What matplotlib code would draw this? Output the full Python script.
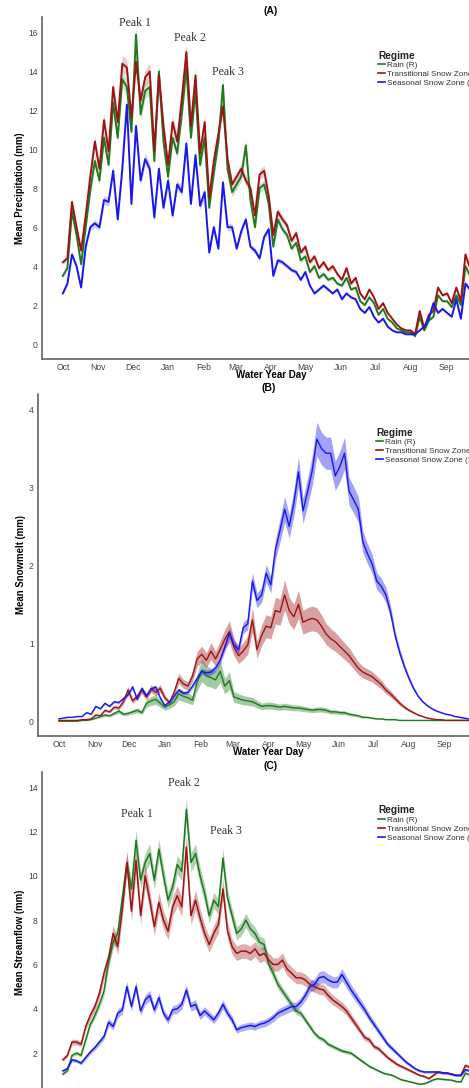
import numpy as np
import matplotlib
matplotlib.use("Agg")
import matplotlib.pyplot as plt
from matplotlib.lines import Line2D

plt.rcParams['font.family'] = ['Liberation Sans', 'DejaVu Sans']

# ---------------- data ----------------
days = np.arange(1, 366, 4)  # water-year day, sampled every 4 days

month_days = [1, 32, 62, 93, 124, 152, 183, 213, 244, 274, 305, 336]
month_labels = ['Oct', 'Nov', 'Dec', 'Jan', 'Feb', 'Mar', 'Apr', 'May', 'Jun', 'Jul', 'Aug', 'Sep']

regimes = ['Rain (R)', 'Transitional Snow Zone (TSZ)', 'Seasonal Snow Zone (SSZ)']

# Panel A: mean precipitation (mm)
precip_rain = [3.5, 3.9, 6.8, 5.6, 4.1, 6.0, 7.9, 9.4, 8.4, 10.6, 9.2, 12.4, 10.6, 13.6, 13.2, 10.9,
               15.9, 11.8, 13.0, 13.2, 9.4, 14.0, 10.4, 8.6, 10.6, 9.8, 11.8, 14.2, 10.6, 13.0, 9.2, 10.6,
               7.0, 8.8, 10.4, 13.3, 9.0, 7.8, 8.2, 8.6, 10.2, 7.4, 6.0, 8.0, 8.2, 7.2, 5.0, 6.4,
               5.9, 5.6, 4.9, 5.2, 4.3, 4.5, 3.7, 4.0, 3.4, 3.6, 3.3, 3.4, 3.1, 3.0, 3.4, 2.8,
               2.9, 2.2, 2.0, 2.4, 2.1, 1.5, 1.8, 1.3, 1.1, 0.8, 0.7, 0.6, 0.6, 0.4, 1.4, 0.7,
               1.2, 1.4, 2.5, 2.2, 2.2, 1.9, 2.5, 2.0, 4.0, 3.5, 3.0, 2.7]
precip_tsz = [4.2, 4.4, 7.3, 6.0, 4.8, 6.6, 8.6, 10.4, 9.0, 11.5, 9.9, 13.2, 11.4, 14.4, 14.2, 11.6,
              14.5, 12.5, 13.7, 14.0, 9.9, 13.8, 11.2, 9.2, 11.4, 10.4, 12.6, 15.0, 11.2, 13.8, 9.8, 11.4,
              7.5, 9.4, 10.8, 12.2, 9.5, 8.2, 8.6, 9.0, 8.4, 8.0, 6.6, 8.7, 8.9, 7.6, 5.6, 6.8,
              6.4, 6.1, 5.3, 5.7, 4.7, 5.0, 4.2, 4.5, 3.9, 4.2, 3.8, 4.0, 3.6, 3.3, 3.9, 3.1,
              3.4, 2.6, 2.3, 2.8, 2.4, 1.8, 2.1, 1.6, 1.3, 1.0, 0.8, 0.7, 0.7, 0.5, 1.7, 0.8,
              1.5, 1.7, 2.9, 2.5, 2.6, 2.1, 2.9, 2.2, 4.6, 3.9, 3.3, 3.0]
precip_ssz = [2.6, 3.1, 4.6, 4.0, 2.9, 5.0, 6.0, 6.2, 6.0, 7.4, 7.3, 8.9, 6.4, 9.0, 12.3, 7.2,
              11.2, 8.4, 9.5, 9.0, 6.5, 9.0, 7.0, 8.4, 6.6, 8.2, 7.8, 10.3, 7.2, 9.7, 7.1, 7.8,
              4.7, 6.0, 4.9, 8.3, 6.0, 6.0, 4.9, 5.8, 6.4, 5.0, 4.8, 4.4, 5.5, 5.9, 3.5, 4.3,
              4.2, 4.0, 3.8, 3.7, 3.3, 3.7, 3.0, 2.6, 2.8, 3.0, 2.8, 2.6, 2.8, 2.3, 2.6, 2.4,
              2.3, 1.8, 1.6, 1.9, 1.4, 1.1, 1.3, 0.9, 0.7, 0.6, 0.6, 0.5, 0.5, 0.5, 0.7, 0.9,
              1.3, 2.1, 1.6, 1.8, 1.6, 1.4, 2.3, 1.3, 3.1, 2.8, 2.2, 1.9]

# Panel B: mean snowmelt (mm)
melt_rain = [0.0, 0.0, 0.0, 0.0, 0.0, 0.01, 0.01, 0.02, 0.04, 0.06, 0.08, 0.07, 0.10, 0.13, 0.09, 0.10,
             0.12, 0.14, 0.11, 0.23, 0.26, 0.28, 0.23, 0.18, 0.21, 0.25, 0.35, 0.32, 0.30, 0.27, 0.50, 0.65,
             0.58, 0.56, 0.53, 0.64, 0.45, 0.52, 0.31, 0.29, 0.27, 0.26, 0.25, 0.22, 0.19, 0.20, 0.20, 0.19,
             0.18, 0.19, 0.18, 0.17, 0.17, 0.16, 0.15, 0.14, 0.15, 0.15, 0.14, 0.12, 0.12, 0.11, 0.11, 0.09,
             0.08, 0.07, 0.05, 0.05, 0.04, 0.03, 0.03, 0.02, 0.02, 0.02, 0.01, 0.01, 0.01, 0.01, 0.01, 0.01,
             0.01, 0.01, 0.01, 0.01, 0.01, 0.01, 0.01, 0.01, 0.01, 0.01, 0.01, 0.01]
melt_tsz = [0.01, 0.01, 0.01, 0.01, 0.01, 0.02, 0.02, 0.03, 0.08, 0.07, 0.14, 0.12, 0.18, 0.17, 0.25, 0.40,
            0.26, 0.32, 0.40, 0.31, 0.42, 0.37, 0.42, 0.30, 0.24, 0.37, 0.55, 0.48, 0.45, 0.58, 0.80, 0.86,
            0.78, 0.90, 0.80, 0.92, 1.05, 1.15, 0.95, 0.84, 0.90, 0.98, 1.30, 0.92, 1.10, 1.22, 1.20, 1.42,
            1.40, 1.62, 1.42, 1.34, 1.50, 1.27, 1.30, 1.32, 1.30, 1.22, 1.12, 1.06, 1.02, 0.96, 0.90, 0.84,
            0.76, 0.68, 0.63, 0.60, 0.57, 0.52, 0.47, 0.40, 0.35, 0.29, 0.23, 0.18, 0.14, 0.11, 0.08, 0.06,
            0.04, 0.03, 0.02, 0.02, 0.01, 0.01, 0.01, 0.01, 0.01, 0.01, 0.01, 0.01]
melt_ssz = [0.03, 0.04, 0.05, 0.05, 0.06, 0.06, 0.11, 0.09, 0.19, 0.16, 0.23, 0.19, 0.25, 0.24, 0.29, 0.34,
            0.44, 0.28, 0.42, 0.33, 0.41, 0.44, 0.30, 0.20, 0.25, 0.32, 0.40, 0.36, 0.37, 0.45, 0.55, 0.64,
            0.62, 0.63, 0.68, 0.78, 0.95, 1.13, 0.98, 0.92, 1.20, 1.25, 1.80, 1.55, 1.62, 1.90, 1.75, 2.20,
            2.45, 2.72, 2.50, 2.80, 3.20, 2.70, 2.95, 3.22, 3.62, 3.50, 3.44, 3.44, 3.15, 3.27, 3.44, 2.95,
            2.84, 2.72, 2.30, 2.15, 2.02, 1.80, 1.73, 1.62, 1.40, 1.10, 0.88, 0.70, 0.55, 0.42, 0.32, 0.25,
            0.20, 0.16, 0.13, 0.11, 0.09, 0.08, 0.06, 0.05, 0.04, 0.03, 0.03, 0.02]

# Panel C: mean streamflow (mm)
flow_rain = [1.05, 1.2, 1.9, 2.0, 1.9, 2.6, 3.3, 3.7, 4.2, 4.8, 6.1, 7.0, 7.4, 9.0, 10.6, 9.4,
             11.6, 9.8, 10.6, 11.0, 9.8, 11.2, 10.0, 8.9, 9.5, 10.5, 10.2, 13.0, 10.6, 11.0, 10.0, 9.2,
             8.2, 8.9, 8.6, 10.8, 9.0, 8.2, 7.4, 7.6, 8.0, 7.6, 7.4, 7.0, 6.9, 6.0, 5.6, 5.1,
             4.8, 4.5, 4.2, 3.9, 3.8, 3.5, 3.2, 2.9, 2.7, 2.6, 2.4, 2.3, 2.2, 2.1, 2.05, 2.0,
             1.85, 1.7, 1.55, 1.4, 1.3, 1.2, 1.1, 1.05, 1.0, 0.9, 0.8, 0.75, 0.7, 0.65, 0.6, 0.62,
             0.7, 0.8, 0.85, 0.82, 0.8, 0.78, 0.72, 0.7, 1.1, 1.0, 0.95, 0.9]
flow_tsz = [1.7, 1.9, 2.5, 2.5, 2.4, 3.2, 3.7, 4.1, 4.7, 5.6, 6.3, 7.4, 6.8, 8.5, 10.6, 8.4,
            10.7, 8.2, 10.0, 8.9, 7.7, 8.8, 8.0, 7.5, 8.6, 9.1, 8.6, 11.3, 8.2, 8.9, 8.1, 7.4,
            6.9, 7.4, 7.8, 9.4, 7.5, 6.8, 6.5, 6.6, 6.6, 6.5, 6.7, 6.4, 6.5, 6.2, 6.0, 6.0,
            6.2, 5.8, 5.6, 5.4, 5.4, 5.3, 5.1, 5.0, 4.9, 4.85, 4.6, 4.4, 4.25, 4.1, 3.9, 3.6,
            3.3, 3.0, 2.7, 2.6, 2.3, 2.2, 2.0, 1.8, 1.65, 1.5, 1.4, 1.3, 1.2, 1.1, 1.0, 0.95,
            0.85, 1.0, 1.15, 1.1, 1.1, 1.05, 1.0, 1.0, 1.45, 1.35, 1.3, 1.25]
flow_ssz = [1.2, 1.3, 1.7, 1.65, 1.55, 1.8, 2.05, 2.25, 2.5, 2.75, 3.4, 3.2, 3.8, 3.95, 5.0, 4.1,
            5.0, 3.9, 4.4, 4.6, 3.95, 4.5, 3.8, 3.5, 3.95, 4.0, 4.2, 4.85, 4.1, 4.2, 3.7, 3.9,
            3.7, 3.5, 3.8, 4.2, 3.8, 3.5, 3.05, 3.15, 3.2, 3.25, 3.2, 3.3, 3.35, 3.45, 3.6, 3.8,
            3.9, 4.0, 4.1, 4.1, 4.3, 4.6, 5.0, 5.1, 5.4, 5.45, 5.3, 5.2, 5.2, 5.55, 5.2, 4.85,
            4.55, 4.25, 3.95, 3.6, 3.3, 3.0, 2.7, 2.4, 2.2, 2.0, 1.8, 1.6, 1.45, 1.3, 1.2, 1.15,
            1.15, 1.15, 1.15, 1.12, 1.1, 1.05, 1.0, 1.0, 1.25, 1.2, 1.15, 1.1]

# relative half-width of the shaded confidence ribbons, per panel and regime
ribbon_A = [0.03, 0.03, 0.03]
ribbon_B = [0.22, 0.12, 0.06]
ribbon_C = [0.04, 0.05, 0.05]

# ---------------- style ----------------
colors = ['#1f7a1f', '#9e1414', '#1717ee']
spine_col = '#555555'
tick_col = '#444444'

fig = plt.figure(figsize=(4.69, 10.88), dpi=100)
W, H = 469.0, 1088.0


def make_ax(left, top, right, bottom):
    return fig.add_axes([left / W, 1 - bottom / H, (right - left) / W, (bottom - top) / H])


axA = make_ax(42, 17, 500, 359)
axB = make_ax(38, 394, 499, 736)
axC = make_ax(42, 772, 500, 1113)

panels = [
    (axA, '(A)', 'Mean Precipitation (mm)', [precip_rain, precip_tsz, precip_ssz], ribbon_A,
     (-0.77, 16.8), list(range(0, 17, 2)), 1.4, 0.22),
    (axB, '(B)', 'Mean Snowmelt (mm)', [melt_rain, melt_tsz, melt_ssz], ribbon_B,
     (-0.19, 4.2), [0, 1, 2, 3, 4], 1.0, 0.4),
    (axC, '(C)', 'Mean Streamflow (mm)', [flow_rain, flow_tsz, flow_ssz], ribbon_C,
     (-0.7, 14.68), list(range(0, 15, 2)), 1.1, 0.35),
]

for ax, title, ylab, series, rib, ylim, yticks, lw, alpha in panels:
    for vals, c, f, lab in zip(series, colors, rib, regimes):
        v = np.asarray(vals)
        ax.fill_between(days, v * (1 - f), v * (1 + f), color=c, alpha=alpha, lw=0)
        ax.plot(days, v, color=c, lw=lw, label=lab, solid_joinstyle='round')
    ax.set_xlim(-17.2, 383.2)
    ax.set_ylim(*ylim)
    ax.set_yticks(yticks)
    ax.set_xticks(month_days)
    ax.set_xticklabels(month_labels)
    for s in ['top', 'right']:
        ax.spines[s].set_visible(False)
    for s in ['left', 'bottom']:
        ax.spines[s].set_color(spine_col)
        ax.spines[s].set_linewidth(1.1)
    ax.tick_params(axis='both', length=0, labelsize=6.2, colors=tick_col, pad=3)
    ax.set_title(title, fontsize=7.5, fontweight='bold', pad=2)
    ax.set_ylabel(ylab, fontsize=6.9, fontweight='bold', labelpad=2)
    ax.set_xlabel('Water Year Day', fontsize=7.0, fontweight='bold', labelpad=-1.5)
    handles = [Line2D([], [], color=c, lw=1.2) for c in colors]
    leg = ax.legend(handles, regimes, title='Regime', loc='upper left',
                    bbox_to_anchor=(0.734, 0.902), frameon=False, fontsize=5.9,
                    title_fontsize=7.3, handlelength=0.8, handletextpad=0.3,
                    labelspacing=0.12, borderaxespad=0, borderpad=0, alignment='left')
    leg.get_title().set_fontweight('bold')
    leg.get_title().set_color('#222222')
    for t in leg.get_texts():
        t.set_color('#333333')

serif = ['Liberation Serif', 'DejaVu Serif']
for d, v, s in [(64, 16.5, 'Peak 1'), (112, 15.7, 'Peak 2'), (145, 14.0, 'Peak 3')]:
    axA.text(d, v, s, ha='center', va='center', fontsize=8.5, family=serif, color='#333333')
for d, v, s in [(66, 12.8, 'Peak 1'), (107, 14.2, 'Peak 2'), (144, 12.0, 'Peak 3')]:
    axC.text(d, v, s, ha='center', va='center', fontsize=8.5, family=serif, color='#333333')

fig.savefig('out.png', dpi=100)
